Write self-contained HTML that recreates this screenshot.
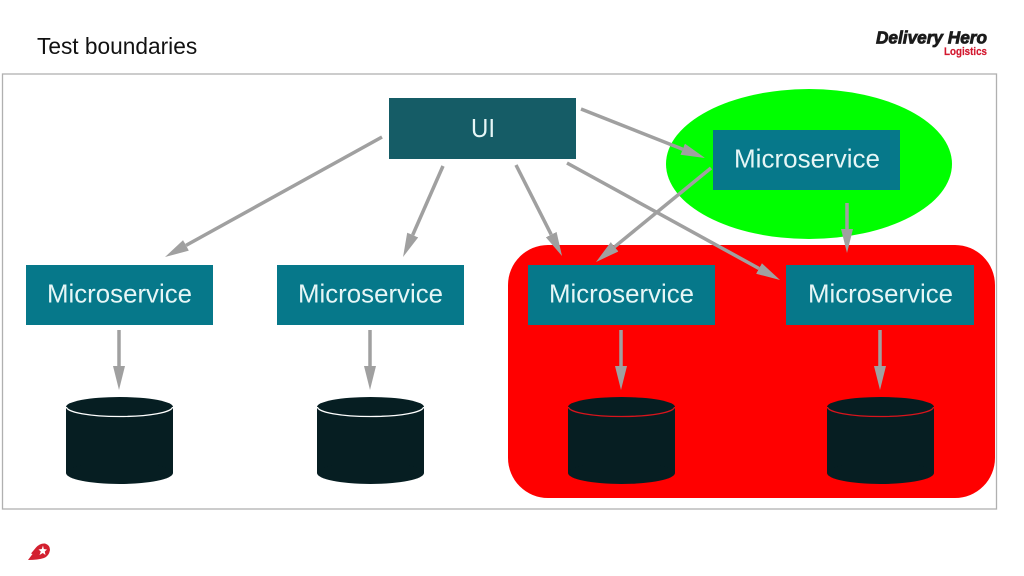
<!DOCTYPE html>
<html><head><meta charset="utf-8"><style>
html,body{margin:0;padding:0;background:#fff;width:1024px;height:576px;overflow:hidden}
svg{display:block}
</style></head><body>
<svg width="1024" height="576" viewBox="0 0 1024 576" xmlns="http://www.w3.org/2000/svg" font-family="'Liberation Sans',sans-serif">
<defs>
<marker id="a" markerUnits="userSpaceOnUse" markerWidth="26" markerHeight="14" refX="0" refY="6.500" orient="auto"><path d="M0 .5L24 6.500L0 12.500Z" fill="#a0a0a0"/></marker>
<g id="db"><rect x="0" y="10" width="107" height="66" fill="#061e22"/><ellipse cx="53.500" cy="76" rx="53.500" ry="11" fill="#061e22"/><ellipse cx="53.500" cy="10" rx="53.500" ry="10" fill="#061e22"/></g>
</defs>
<text x="37" y="54" font-size="22.700" fill="#111">Test boundaries</text>
<text x="876" y="43.500" font-size="17.500" font-weight="bold" font-style="italic" fill="#1b1b1b" stroke="#1b1b1b" stroke-width=".8" textLength="111" lengthAdjust="spacingAndGlyphs">Delivery Hero</text>
<text x="944" y="55" font-size="11" font-weight="bold" fill="#d3182f" stroke="#d3182f" stroke-width=".2" textLength="43" lengthAdjust="spacingAndGlyphs">Logistics</text>
<rect x="2.500" y="74" width="994" height="435" fill="#fff" stroke="#b0b0b0" stroke-width="1.300"/>
<rect x="508" y="245" width="487" height="253" rx="40" fill="#f00"/>
<ellipse cx="809" cy="164" rx="143" ry="75" fill="#0f0"/>
<g fill="#06788a">
<rect x="713" y="130" width="187" height="60"/>
<rect x="26" y="265" width="187" height="60"/>
<rect x="277" y="265" width="187" height="60"/>
<rect x="528" y="265" width="187" height="60"/>
<rect x="786" y="265" width="188" height="60"/>
</g>
<rect x="389" y="98" width="187" height="61" fill="#155c66"/>
<g fill="#e6f6f6" font-size="26">
<text x="471" y="137" textLength="24" lengthAdjust="spacingAndGlyphs">UI</text>
<text x="734" y="167.500" textLength="146" lengthAdjust="spacingAndGlyphs">Microservice</text>
<text x="47" y="302.500" textLength="145" lengthAdjust="spacingAndGlyphs">Microservice</text>
<text x="298" y="302.500" textLength="145" lengthAdjust="spacingAndGlyphs">Microservice</text>
<text x="549" y="302.500" textLength="145" lengthAdjust="spacingAndGlyphs">Microservice</text>
<text x="808" y="302.500" textLength="145" lengthAdjust="spacingAndGlyphs">Microservice</text>
</g>
<g stroke="#a0a0a0" stroke-width="3.500" fill="none">
<line x1="382" y1="137" x2="186" y2="245.400" marker-end="url(#a)"/>
<line x1="443" y1="166" x2="412.700" y2="235" marker-end="url(#a)"/>
<line x1="516" y1="165" x2="551.200" y2="234.600" marker-end="url(#a)"/>
<line x1="567" y1="163" x2="759" y2="268.500" marker-end="url(#a)"/>
<line x1="581" y1="109" x2="682.700" y2="149.200" marker-end="url(#a)"/>
<line x1="711" y1="168" x2="614.600" y2="246.800" marker-end="url(#a)"/>
<line x1="847" y1="203" x2="847" y2="229" marker-end="url(#a)"/>
<line x1="119" y1="330" x2="119" y2="366" marker-end="url(#a)"/>
<line x1="370" y1="330" x2="370" y2="366" marker-end="url(#a)"/>
<line x1="621" y1="330" x2="621" y2="366" marker-end="url(#a)"/>
<line x1="880" y1="330" x2="880" y2="366" marker-end="url(#a)"/>
</g>
<use href="#db" x="66" y="397"/>
<path d="M66.500 407A53 9.500 0 0 0 172.500 407" fill="none" stroke="#fff" stroke-width="1.300"/>
<use href="#db" x="317" y="397"/>
<path d="M317.500 407A53 9.500 0 0 0 423.500 407" fill="none" stroke="#fff" stroke-width="1.300"/>
<use href="#db" x="568" y="397"/>
<path d="M568.500 407A53 9.500 0 0 0 674.500 407" fill="none" stroke="#d8141c" stroke-width="1.300"/>
<use href="#db" x="827" y="397"/>
<path d="M827.500 407A53 9.500 0 0 0 933.500 407" fill="none" stroke="#d8141c" stroke-width="1.300"/>
<path d="M28 560L32.500 554L31 553.500L36 547.500Q40 543 45 543.500Q50 545 50 550Q49 556 44 558Q38 560 28 560Z" fill="#d3202f"/>
<path d="M43 545.500L43.800 549L47 549.500L44.800 551.500L45.500 555L42.800 553L39.500 555L40.800 551.500L38.500 549.500L41.800 549Z" fill="#fff"/>
</svg>
</body></html>
